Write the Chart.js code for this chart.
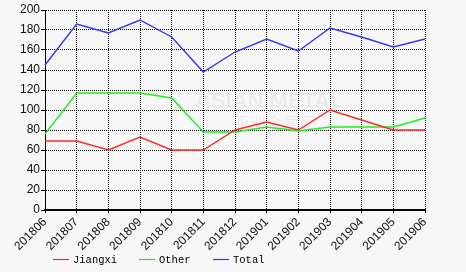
<!DOCTYPE html>
<html>
<head>
<meta charset="utf-8">
<script src="https://cdn.jsdelivr.net/npm/chart.js@4"></script>
<style>
  html, body { margin: 0; padding: 0; background: #f7f7f7; }
  #wrap { width: 466px; height: 272px; }
</style>
</head>
<body>
<div id="wrap"><canvas id="myChart"></canvas></div>
<script>
const months = ['201806', '201807', '201808', '201809', '201810', '201811', '201812',
  '201901', '201902', '201903', '201904', '201905', '201906'];

const jiangxi = [69, 69, 60, 73, 60, 60, 80, 88, 80, 100, 90, 80, 80];
const other = [76, 117, 117, 117, 112, 78, 78, 83, 79, 83, 83, 83, 92];
const total = [145, 186, 177, 190, 173, 138, 158, 171, 159, 182, 173, 163, 171];

const yTicks = [0, 20, 40, 60, 80, 100, 120, 140, 160, 180, 200];

// faint watermark behind the lines
const watermark = {
  id: 'watermark',
  beforeDatasetsDraw(chart) {
    const c = chart.ctx;
    c.save();
    c.fillStyle = 'rgba(0,0,0,0.05)';
    c.font = 'bold 22px "Liberation Sans"';
    c.fillText('ASIAN METAL', 195, 108);
    c.font = '17px "Noto Sans CJK SC"';
    c.fillText('亚洲金属网', 232, 130);
    c.restore();
  }
};

// legend row under the axis labels, one line + name per dataset
const lineLegend = {
  id: 'lineLegend',
  afterDraw(chart) {
    const c = chart.ctx;
    const xs = [53, 139, 213];
    const y = 259.5;
    c.save();
    c.font = '10.5px "Liberation Mono", monospace';
    c.textBaseline = 'middle';
    chart.data.datasets.forEach((ds, i) => {
      c.strokeStyle = ds.borderColor;
      c.lineWidth = 1.2;
      c.beginPath();
      c.moveTo(xs[i], y);
      c.lineTo(xs[i] + 16, y);
      c.stroke();
      c.fillStyle = '#000';
      c.fillText(ds.label, xs[i] + 20, y + 0.5);
    });
    c.restore();
  }
};

const ctx = document.querySelector('#myChart');

new Chart(ctx, {
  type: 'line',
  data: {
    labels: months,
    datasets: [{
      label: 'Jiangxi',
      data: jiangxi,
      borderColor: '#ff2a2a',
      borderWidth: 1.4,
      pointRadius: 0,
      tension: 0
    }, {
      label: 'Other',
      data: other,
      borderColor: '#22ee22',
      borderWidth: 1.4,
      pointRadius: 0,
      tension: 0
    }, {
      label: 'Total',
      data: total,
      borderColor: '#3535ff',
      borderWidth: 1.4,
      pointRadius: 0,
      tension: 0
    }]
  },
  options: {
    responsive: true,
    maintainAspectRatio: false,
    animation: false,
    layout: {
      padding: { left: 0, right: 41, top: 10, bottom: 0 }
    },
    plugins: {
      tooltip: { enabled: false },
      legend: { display: false }
    },
    scales: {
      x: {
        offset: false,
        afterFit(scale) { scale.height = 62; },
        grid: { color: '#000', tickColor: '#000', tickLength: 3, lineWidth: 1 },
        border: { color: '#000', width: 2, dash: [1, 1] },
        ticks: {
          color: '#111',
          minRotation: 45,
          maxRotation: 45,
          autoSkip: false,
          padding: 2,
          font: { family: '"Liberation Sans", Arial', size: 12 }
        }
      },
      y: {
        min: 0,
        max: 200,
        afterFit(scale) { scale.width = 45; },
        afterBuildTicks(scale) { scale.ticks = yTicks.map(v => ({ value: v })); },
        grid: { color: '#000', tickColor: '#000', tickLength: 4, lineWidth: 1 },
        border: { color: '#000', width: 1, dash: [1, 1] },
        ticks: {
          color: '#111',
          padding: 1,
          font: { family: '"Liberation Sans", Arial', size: 12 }
        }
      }
    }
  },
  plugins: [watermark, lineLegend]
});
</script>
</body>
</html>
